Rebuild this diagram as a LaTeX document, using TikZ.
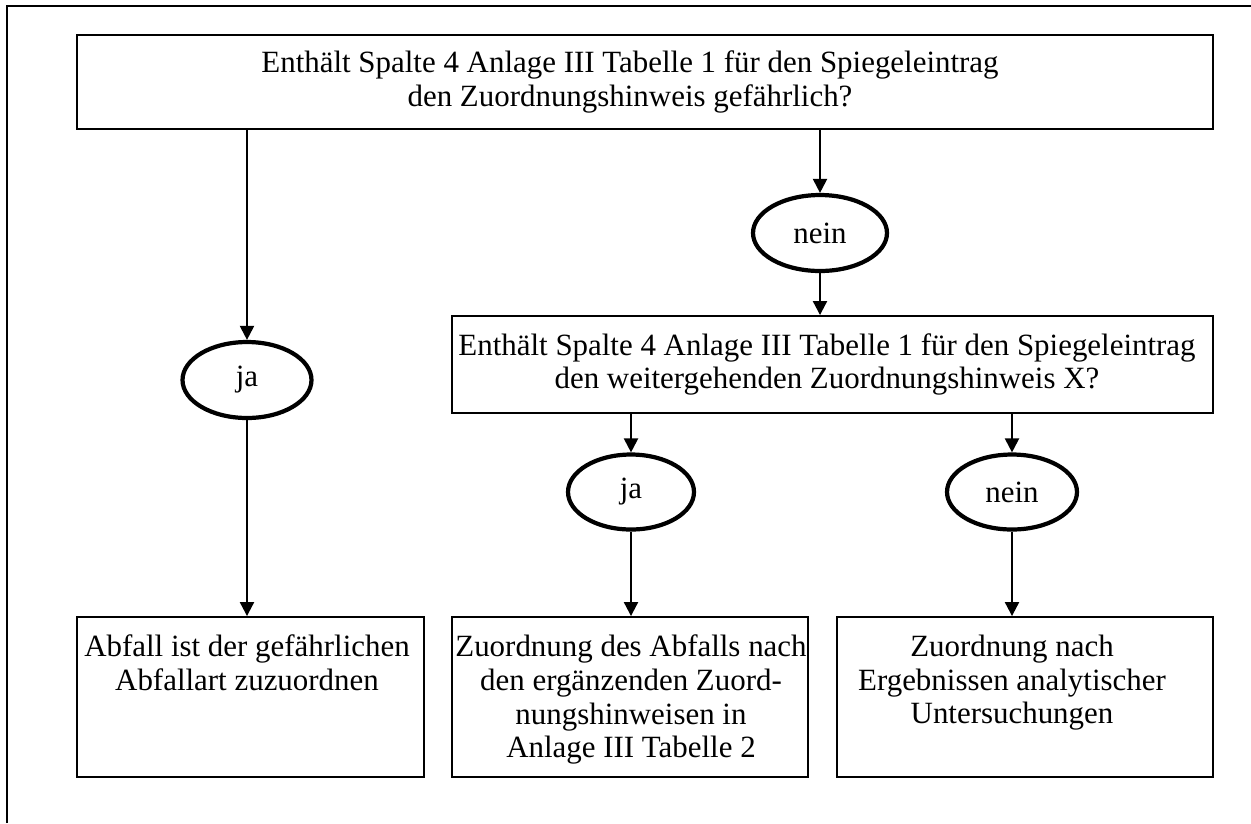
\documentclass[tikz,border=0pt]{standalone}
\usepackage{fontspec}
\setmainfont{Liberation Serif}
\usetikzlibrary{positioning, arrows.meta, shapes.geometric}

\begin{document}
\begin{tikzpicture}[
x=0.02cm, y=-0.02cm,
font=\fontsize{17.6}{19.2}\selectfont,
block/.style={
	rectangle,
	draw,
	line width=1.1pt,
	inner sep=0pt
},
answer/.style={
	ellipse,
	draw,
	line width=2.4pt,
	inner sep=0pt
},
boxtext/.style={
	align=center,
	inner sep=0pt
},
line/.style={
	draw, line width=1.2pt, -{Triangle[length=0.28cm, width=0.28cm]}
}
]
\useasboundingbox (0,0) rectangle (1251,823);

% Frame
\draw[line width=1.1pt] (7,823) |- (1251,6);

% Boxes
\node[block, minimum width=22.72cm, minimum height=1.88cm] (frage1) at (645,82) {};
\node[block, minimum width=15.22cm, minimum height=1.94cm] (frage2) at (832.5,364.5) {};
\node[block, minimum width=6.94cm, minimum height=3.2cm] (gefaehrlich) at (250.5,697) {};
\node[block, minimum width=7.12cm, minimum height=3.2cm] (tabelle2) at (630,697) {};
\node[block, minimum width=7.52cm, minimum height=3.2cm] (analytik) at (1025,697) {};

% Answers
\node[answer, minimum width=2.58cm, minimum height=1.52cm] (ja1) at (247,380) {ja};
\node[answer, minimum width=2.68cm, minimum height=1.52cm] (nein1) at (820,233) {nein};
\node[answer, minimum width=2.52cm, minimum height=1.5cm] (ja2) at (631,492) {ja};
\node[answer, minimum width=2.6cm, minimum height=1.5cm] (nein2) at (1012,492) {nein};

% Texts
\node[boxtext] (text0) at (630,82)
	{Enthält Spalte 4 Anlage III Tabelle 1 für den Spiegeleintrag\\den Zuordnungshinweis gefährlich?};
\node[boxtext] (text00) at (827,364.5)
	{Enthält Spalte 4 Anlage III Tabelle 1 für den Spiegeleintrag\\den weitergehenden Zuordnungshinweis X?};
\node[boxtext, anchor=north, yshift=-0.37cm] (text1) at (ja1 |- gefaehrlich.north)
	{Abfall ist der gefährlichen\\Abfallart zuzuordnen};
\node[boxtext, anchor=north, yshift=-0.37cm] (text2) at (ja2 |- tabelle2.north)
	{Zuordnung des Abfalls nach\\den ergänzenden Zuord-\\nungshinweisen in\\Anlage III Tabelle 2};
\node[boxtext, anchor=north, yshift=-0.37cm] (text3) at (nein2 |- analytik.north)
	{Zuordnung nach\\Ergebnissen analytischer\\Untersuchungen};

% Lines
\draw[line] (frage1.south -| ja1) -- (ja1.north);
\draw[line] (ja1.south) -- (ja1.south |- gefaehrlich.north);
\draw[line] (frage1.south -| nein1) -- (nein1.north);
\draw[line] (nein1.south) -- (nein1.south |- frage2.north);
\draw[line] (frage2.south -| ja2) -- (ja2.north);
\draw[line] (ja2.south) -- (ja2.south |- tabelle2.north);
\draw[line] (frage2.south -| nein2) -- (nein2.north);
\draw[line] (nein2.south) -- (nein2.south |- analytik.north);

\end{tikzpicture}
\end{document}
